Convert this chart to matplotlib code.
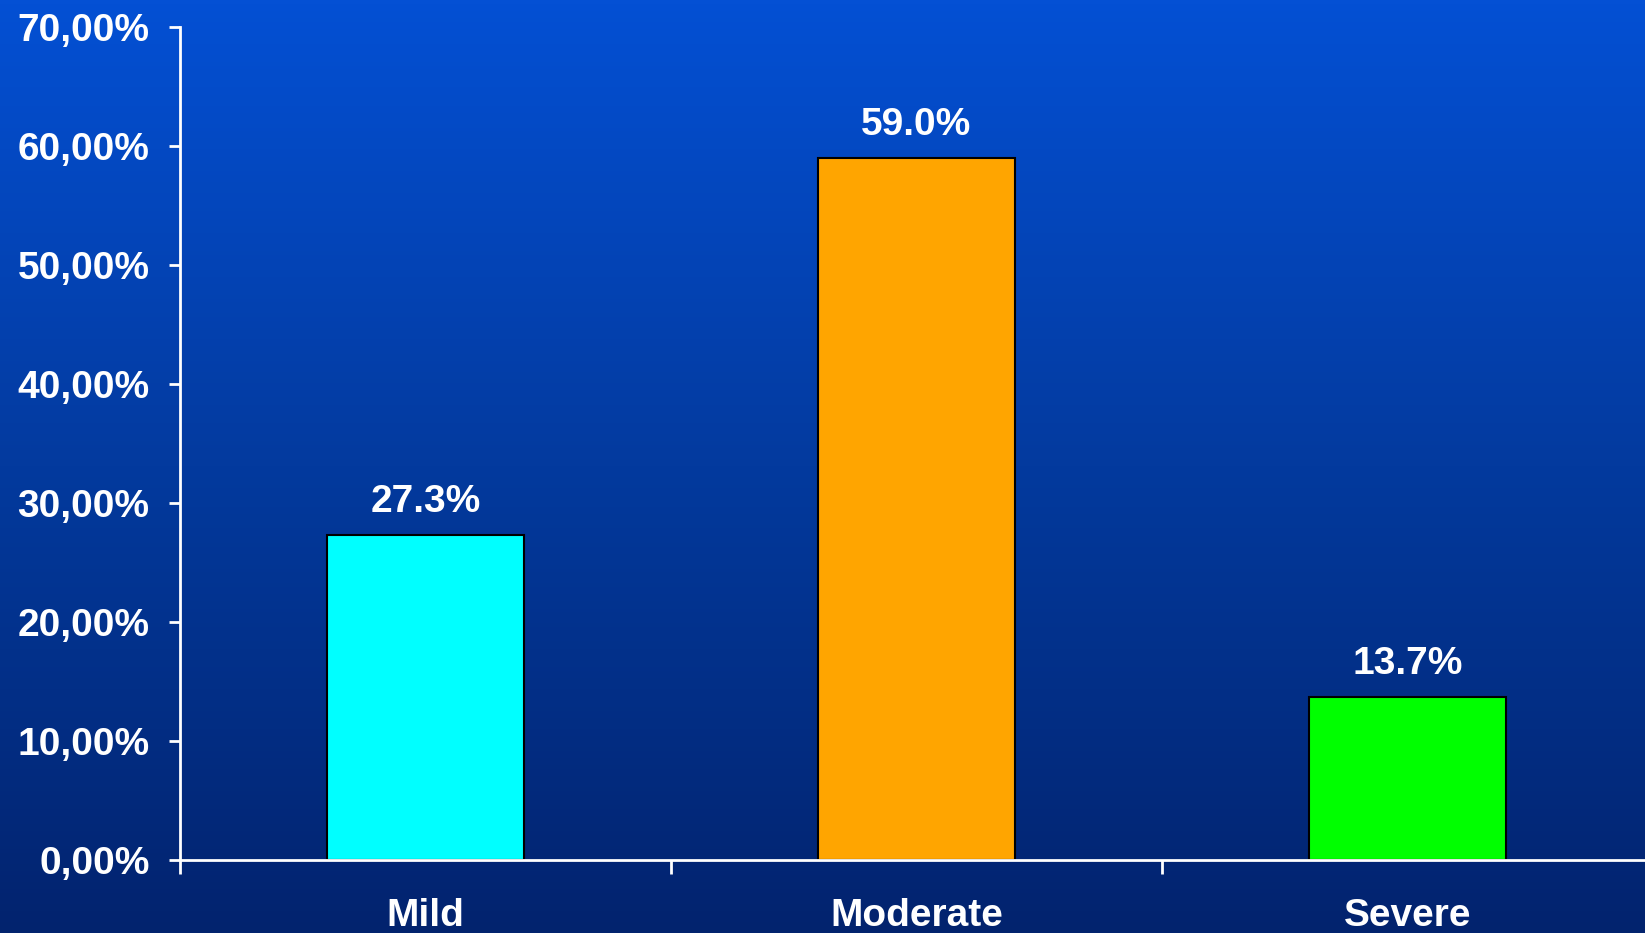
import matplotlib
matplotlib.use("Agg")
import matplotlib.pyplot as plt
import numpy as np
from matplotlib.colors import LinearSegmentedColormap
from matplotlib.ticker import FuncFormatter

categories = ["Mild", "Moderate", "Severe"]
values = [27.3, 59.0, 13.7]
bar_colors = ["#00FFFF", "#FFA500", "#00FF00"]
yticks = [0, 10, 20, 30, 40, 50, 60, 70]

plt.rcParams['font.family'] = ['Liberation Sans', 'DejaVu Sans']

fig = plt.figure(figsize=(16.45, 9.33), dpi=100)

# gradient background
bg = fig.add_axes([0, 0, 1, 1], zorder=0)
cmap = LinearSegmentedColormap.from_list("bg", ["#0450D4", "#033A9E", "#02236E"])
grad = np.linspace(0, 1, 256).reshape(-1, 1)
bg.imshow(grad, aspect="auto", cmap=cmap, extent=[0, 1, 0, 1])
bg.axis("off")

ax = fig.add_axes([0.1094, 0.0782, 0.8954, 0.8929], zorder=1)
ax.patch.set_alpha(0)
x = np.arange(len(categories))
ax.bar(x, values, width=0.4, color=bar_colors, edgecolor="black", linewidth=1.5, zorder=2)

for xi, v in zip(x, values):
    ax.annotate(f"{v:.1f}%", (xi, v), xytext=(0, 11), textcoords="offset points",
                ha="center", va="bottom", color="white", fontsize=28, fontweight="bold")

ax.set_xlim(-0.5, 2.5)
ax.set_ylim(0, 70)
ax.set_yticks(yticks)
ax.yaxis.set_major_formatter(FuncFormatter(lambda v, p: f"{v:.2f}".replace(".", ",") + "%"))
ax.set_xticks(x)
ax.set_xticklabels(categories)
ax.set_xticks([-0.5, 0.5, 1.5, 2.5], minor=True)

for s in ["top", "right"]:
    ax.spines[s].set_visible(False)
for s in ["left", "bottom"]:
    ax.spines[s].set_color("white")
    ax.spines[s].set_linewidth(2)
    ax.spines[s].set_zorder(3)

ax.tick_params(axis="y", colors="white", length=8, width=2, pad=14, labelsize=28)
ax.tick_params(axis="x", which="major", length=0, pad=27, labelsize=28, colors="white")
ax.tick_params(axis="x", which="minor", length=10, width=2, color="white")
for lab in ax.get_xticklabels() + ax.get_yticklabels():
    lab.set_fontweight("bold")

fig.savefig("out.png", dpi=100)
